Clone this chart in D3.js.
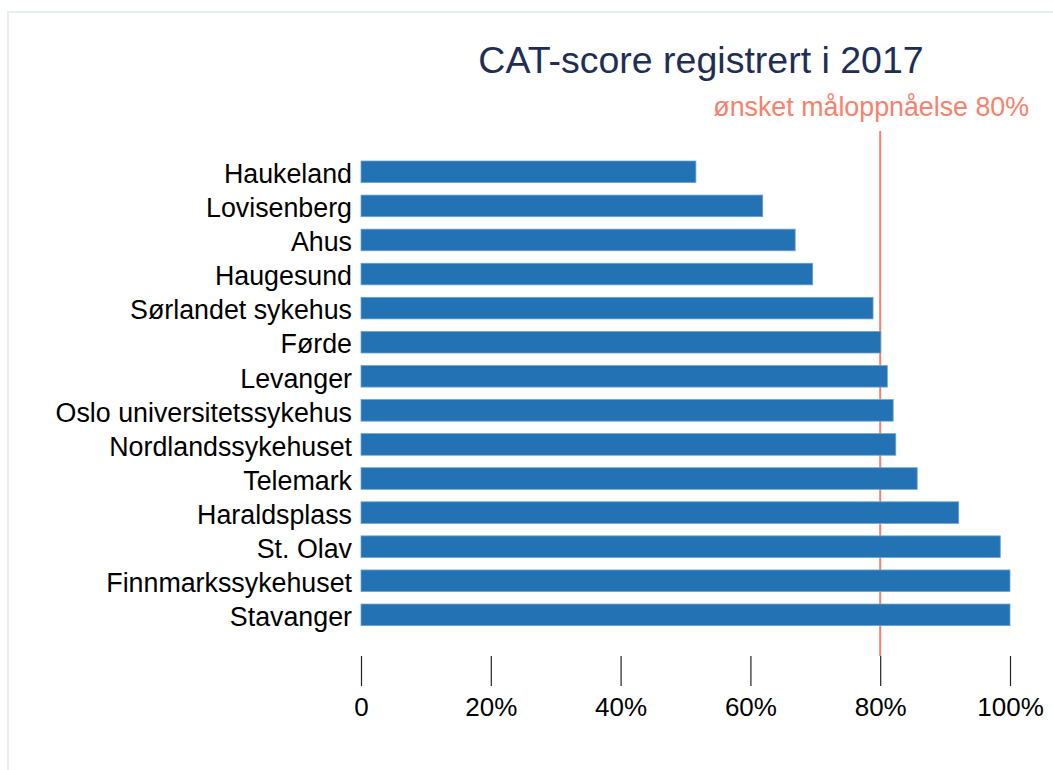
<!DOCTYPE html>
<html>
<head>
<meta charset="utf-8">
<script src="https://cdn.jsdelivr.net/npm/d3@7"></script>
<style>
  body { margin: 0; background: #fff; }
  svg { font-family: "Liberation Sans", Arial, sans-serif; }
</style>
</head>
<body>
<svg width="1053" height="770"></svg>
<script>
// chart data
var hospitals = ["Haukeland", "Lovisenberg", "Ahus", "Haugesund", "Sørlandet sykehus", "Førde",
  "Levanger", "Oslo universitetssykehus", "Nordlandssykehuset", "Telemark", "Haraldsplass",
  "St. Olav", "Finnmarkssykehuset", "Stavanger"];
var scores = [0.516, 0.619, 0.669, 0.696, 0.789, 0.801, 0.811, 0.820, 0.824, 0.857, 0.921, 0.985, 1.0, 1.0];
var tickValues = [0, 0.2, 0.4, 0.6, 0.8, 1.0];
var target = 0.8;
var titleText = "CAT-score registrert i 2017";
var targetText = "ønsket måloppnåelse 80%";

var svg = d3.select("svg");

// light frame around the chart
svg.append("rect")
  .attr("x", 8).attr("y", 12)
  .attr("width", 1100).attr("height", 800)
  .attr("fill", "none")
  .attr("stroke", "#e7edf0")
  .attr("stroke-width", 2);

var x = d3.scaleLinear()
  .domain([0, 1])
  .range([361, 1010]);

var step = 34.08, pad = 0.366;
var yTop = 161 - step * pad / 2;
var y = d3.scaleBand()
  .domain(hospitals)
  .range([yTop, yTop + step * hospitals.length])
  .paddingInner(pad)
  .paddingOuter(pad / 2);

// title
svg.append("text")
  .attr("x", 701)
  .attr("y", 73)
  .attr("text-anchor", "middle")
  .attr("fill", "#1f2e55")
  .style("font-size", "37.5px")
  .text(titleText);

// target line (behind bars)
svg.append("line")
  .attr("x1", x(target)).attr("x2", x(target))
  .attr("y1", 131).attr("y2", 656)
  .attr("stroke", "#f8806c")
  .attr("stroke-width", 2);

svg.append("text")
  .attr("x", x(target) - 9)
  .attr("y", 115.5)
  .attr("text-anchor", "middle")
  .attr("fill", "#f8806c")
  .style("font-size", "26.8px")
  .text(targetText);

// bars
svg.selectAll(".bar")
  .data(hospitals)
  .enter().append("rect")
  .attr("class", "bar")
  .attr("x", x(0))
  .attr("y", function (d) { return y(d); })
  .attr("width", function (d, i) { return x(scores[i]) - x(0); })
  .attr("height", y.bandwidth())
  .attr("fill", "#2272b4")
  .attr("stroke", "#6fa3d2")
  .attr("stroke-width", 0.8);

// category labels
svg.append("g")
  .selectAll("text")
  .data(hospitals)
  .enter().append("text")
  .attr("x", 352)
  .attr("y", function (d) { return y(d) + y.bandwidth() / 2; })
  .attr("dy", "0.42em")
  .attr("text-anchor", "end")
  .attr("fill", "#000")
  .style("font-size", "26.8px")
  .text(function (d) { return d; });

// x axis: ticks only, no domain line
var xAxis = svg.append("g")
  .attr("transform", "translate(0,656)")
  .call(d3.axisBottom(x)
    .tickValues(tickValues)
    .tickSize(30)
    .tickPadding(12)
    .tickFormat(function (d) { return d === 0 ? "0" : d3.format(".0%")(d); }));
xAxis.select(".domain").remove();
xAxis.selectAll(".tick line").attr("stroke", "#222").attr("stroke-width", 1.2);
xAxis.selectAll(".tick text")
  .attr("fill", "#000")
  .style("font-size", "26px")
  .style("font-family", "'Liberation Sans', Arial, sans-serif");
</script>
</body>
</html>
